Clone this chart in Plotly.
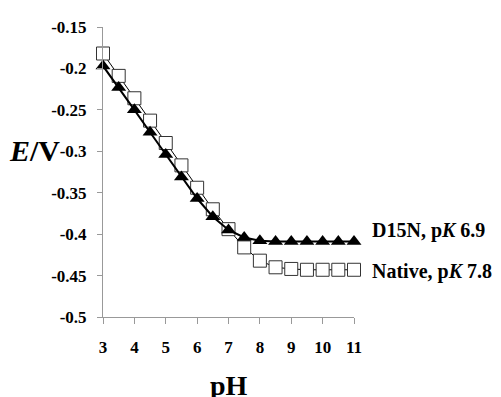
import plotly.graph_objects as go

ph = [3, 3.5, 4, 4.5, 5, 5.5, 6, 6.5, 7, 7.5, 8, 8.5, 9, 9.5, 10, 10.5, 11]
native = [-0.182, -0.209, -0.236, -0.263, -0.290, -0.317, -0.344, -0.370,
          -0.394, -0.416, -0.432, -0.440, -0.442, -0.443, -0.443, -0.443, -0.443]
d15n = [-0.197, -0.223, -0.250, -0.277, -0.304, -0.331, -0.357, -0.379,
        -0.395, -0.404, -0.408, -0.409, -0.409, -0.409, -0.409, -0.409, -0.409]

xticks = [3, 4, 5, 6, 7, 8, 9, 10, 11]
xtick_text = ["3", "4", "5", "6", "7", "8", "9", "10", "11"]
yticks = [-0.5, -0.45, -0.4, -0.35, -0.3, -0.25, -0.2, -0.15]
ytick_text = ["-0.5", "-0.45", "-0.4", "-0.35", "-0.3", "-0.25", "-0.2", "-0.15"]

FONT = "Liberation Serif, Times New Roman, serif"

fig = go.Figure()
fig.add_trace(go.Scatter(
    x=ph, y=native, mode="lines+markers", cliponaxis=False,
    line=dict(color="black", width=1),
    marker=dict(symbol="square", size=13, color="white",
                line=dict(color="#333333", width=1)),
    showlegend=False))
fig.add_trace(go.Scatter(
    x=ph, y=d15n, mode="lines+markers", cliponaxis=False,
    line=dict(color="black", width=2),
    marker=dict(symbol="triangle-up", size=13, color="black"),
    showlegend=False))

fig.add_annotation(x=11, y=d15n[-1], xref="x", yref="y", xanchor="left",
                   yanchor="middle", xshift=16, yshift=11, showarrow=False,
                   text="<b>D15N, p<i>K</i> 6.9</b>",
                   font=dict(family=FONT, size=20, color="black"))
fig.add_annotation(x=11, y=native[-1], xref="x", yref="y", xanchor="left",
                   yanchor="middle", xshift=16, yshift=-2, showarrow=False,
                   text="<b>Native, p<i>K</i> 7.8</b>",
                   font=dict(family=FONT, size=20, color="black"))
fig.add_annotation(x=-0.163, y=-0.3, xref="paper", yref="y", xanchor="right",
                   yanchor="middle", showarrow=False, yshift=1,
                   text="<b><i>E</i>/V</b>",
                   font=dict(family=FONT, size=30, color="black"))
fig.add_annotation(x=7, y=-0.237, xref="x", yref="paper", yanchor="middle",
                   showarrow=False,
                   text="<b>pH</b>",
                   font=dict(family=FONT, size=28, color="black"))

fig.update_xaxes(range=[3, 11], tickvals=xticks,
                 ticktext=["<b>%s</b>" % t for t in xtick_text],
                 showgrid=False, zeroline=False,
                 showline=True, linecolor="#999999", linewidth=1,
                 ticks="outside", ticklen=6, tickcolor="#999999",
                 ticklabelstandoff=9,
                 tickfont=dict(family=FONT, size=17, color="black"))
fig.update_yaxes(range=[-0.5, -0.15], tickvals=yticks,
                 ticktext=["<b>%s</b>" % t for t in ytick_text],
                 showgrid=False, zeroline=False,
                 showline=True, linecolor="#999999", linewidth=1,
                 ticks="outside", ticklen=5, tickcolor="#999999",
                 ticklabelstandoff=7,
                 tickfont=dict(family=FONT, size=17, color="black"))

fig.update_layout(width=501, height=397, plot_bgcolor="white", paper_bgcolor="white",
                  margin=dict(l=95, r=155, t=10, b=88),
                  font=dict(family=FONT, color="black"))

fig.write_html("out.html")
